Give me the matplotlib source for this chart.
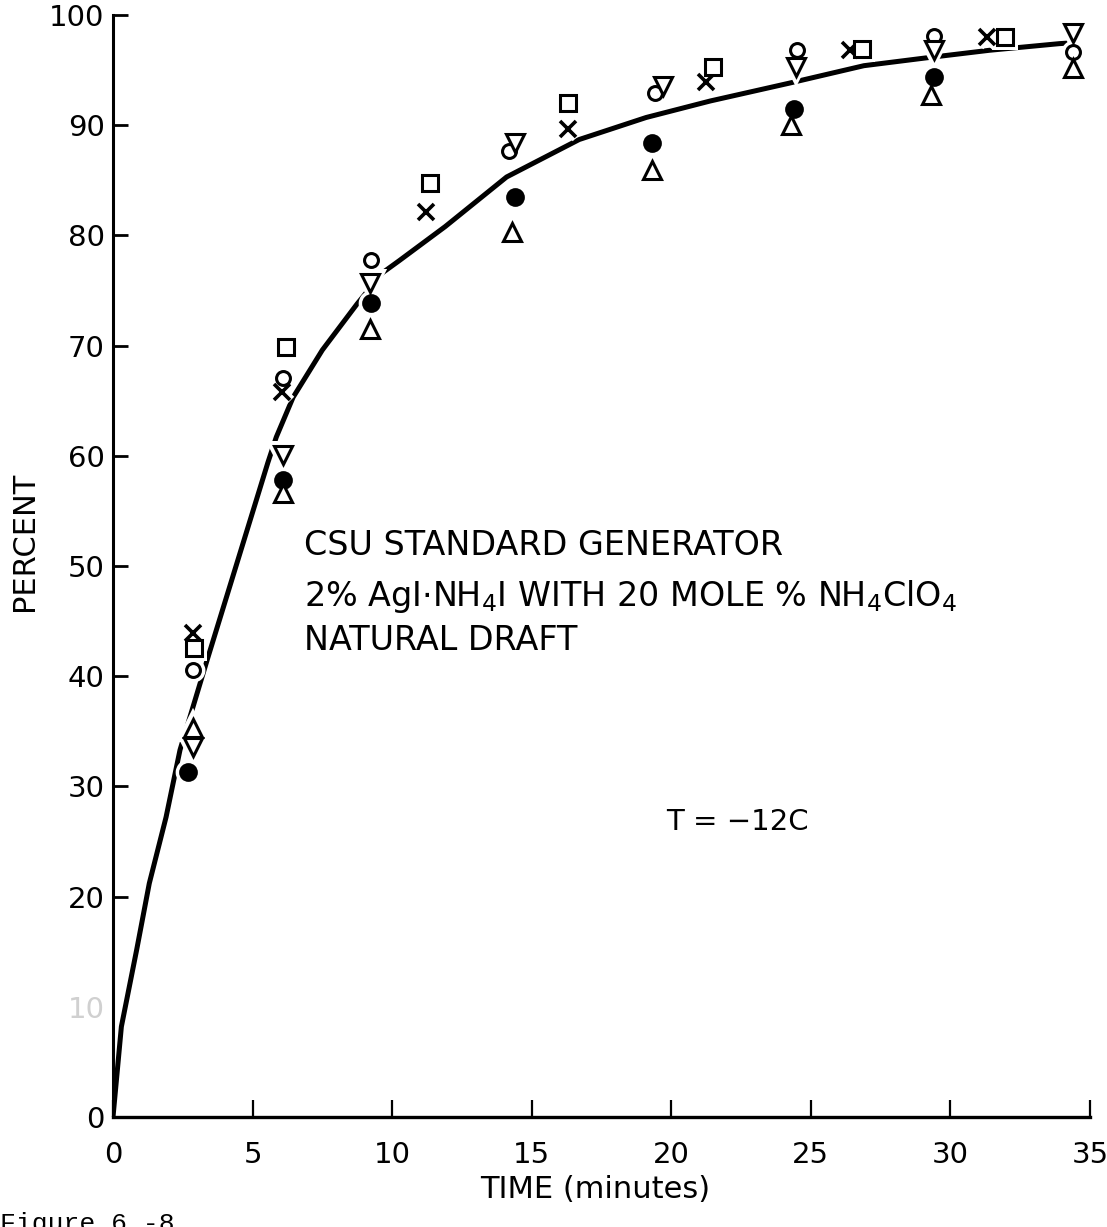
import matplotlib
matplotlib.use("Agg")
import matplotlib.pyplot as plt

plt.rcParams['font.family'] = ['DejaVu Sans']
plt.rcParams['mathtext.fontset'] = 'dejavusans'

# ---- data: percent vs time (minutes), six runs
t_fill_circle = [2.7, 6.1, 9.25, 14.4, 19.3, 24.4, 29.4]
p_fill_circle = [31.3, 57.8, 73.9, 83.5, 88.4, 91.5, 94.4]

t_open_circle = [2.85, 6.1, 9.25, 14.2, 19.4, 24.5, 29.4, 34.4]
p_open_circle = [40.6, 67.1, 77.8, 87.7, 92.9, 96.8, 98.1, 96.6]

t_tri_down = [2.85, 6.1, 9.2, 14.4, 19.7, 24.45, 29.4, 34.4]
p_tri_down = [33.6, 60.1, 75.7, 88.4, 93.6, 95.3, 96.8, 98.4]

t_tri_up = [2.85, 6.1, 9.2, 14.3, 19.3, 24.3, 29.3, 34.4]
p_tri_up = [35.3, 56.6, 71.5, 80.3, 85.9, 90.0, 92.7, 95.2]

t_cross = [2.85, 6.05, 11.2, 16.3, 21.25, 26.4, 31.3]
p_cross = [43.9, 65.8, 82.1, 89.7, 93.9, 96.8, 98.0]

t_square = [2.9, 6.2, 11.35, 16.3, 21.5, 26.85, 31.95]
p_square = [42.6, 69.9, 84.8, 92.0, 95.3, 96.9, 98.0]

# hand-fitted curve
t_curve = [0.0, 0.3, 0.85, 1.3, 1.9, 2.4, 3.4, 5.55, 5.85, 6.45, 7.5,
           8.75, 9.65, 10.25, 11.9, 14.1, 16.7, 19.1, 21.4, 24.2, 26.9,
           29.1, 31.4, 33.9, 34.5]
p_curve = [0.0, 8.2, 15.2, 21.2, 27.2, 33.3, 41.7, 59.4, 61.7, 65.3, 69.6,
           73.8, 76.6, 77.7, 80.8, 85.3, 88.7, 90.7, 92.2, 93.8, 95.4,
           96.1, 96.8, 97.4, 97.5]

y_ticks = [0, 10, 20, 30, 40, 50, 60, 70, 80, 90, 100]
x_ticks = [0, 5, 10, 15, 20, 25, 30, 35]

W, H = 1107, 1227
fig = plt.figure(figsize=(W / 100, H / 100), dpi=100)
ax = fig.add_axes([113 / W, 1 - 1117 / H, 977 / W, 1102 / H])

ax.plot(t_curve, p_curve, color='black', lw=3.6, solid_capstyle='butt',
        solid_joinstyle='round', zorder=2)

styles = [
    (t_fill_circle, p_fill_circle, dict(marker='o', ms=12, mfc='black', mec='black', mew=1.5)),
    (t_open_circle, p_open_circle, dict(marker='o', ms=10, mfc='white', mec='black', mew=2.2)),
    (t_tri_down, p_tri_down, dict(marker='v', ms=13, mfc='white', mec='black', mew=2.2)),
    (t_tri_up, p_tri_up, dict(marker='^', ms=13, mfc='white', mec='black', mew=2.2)),
    (t_cross, p_cross, dict(marker='x', ms=11, mec='black', mew=2.6)),
    (t_square, p_square, dict(marker='s', ms=11, mfc='white', mec='black', mew=2.2)),
]
# white gap around each symbol first, then the symbols on top
for tx, py, st in styles:
    gap = dict(st, mfc='white', mec='white', mew=st['mew'] + 5)
    ax.plot(tx, py, ls='none', zorder=2.5, **gap)
for tx, py, st in styles:
    ax.plot(tx, py, ls='none', zorder=3, **st)

ax.set_xlim(0, 35)
ax.set_ylim(0, 100)
ax.spines['top'].set_visible(False)
ax.spines['right'].set_visible(False)
ax.spines['left'].set_linewidth(2.2)
ax.spines['bottom'].set_linewidth(2.4)

ax.set_xticks(x_ticks)
ax.set_xticklabels([str(v) for v in x_ticks])
ax.set_yticks(y_ticks)
ax.set_yticklabels([str(v) for v in y_ticks])
ax.tick_params(axis='y', direction='in', length=11, width=2, pad=6, labelsize=21)
ax.tick_params(axis='x', direction='in', length=12, width=1.6, pad=17, labelsize=21)
# the 10 label is nearly rubbed out on the sheet
ax.get_yticklabels()[1].set_color('#d0d0d0')
ax.yaxis.get_major_ticks()[1].tick1line.set_visible(False)

fig.text(24 / W, 1 - 541 / H, 'PERCENT', rotation=90, ha='center', va='center', fontsize=22)
fig.text(595 / W, 1 - 1190 / H, 'TIME (minutes)', ha='center', va='center', fontsize=22)

ax.text(6.85, 51.0, 'CSU STANDARD GENERATOR', fontsize=24)
ax.text(6.85, 46.4, r'2% AgI$\cdot$NH$_4$I WITH 20 MOLE % NH$_4$ClO$_4$', fontsize=24)
ax.text(6.85, 42.4, 'NATURAL DRAFT', fontsize=24)
ax.text(19.8, 26.0, 'T = \u221212C', fontsize=21)

fig.text(0.0, 1 - 1231 / H, 'Figure 6.-8', family='Liberation Mono', fontsize=19,
         va='baseline')

fig.savefig('out.png', dpi=100)
